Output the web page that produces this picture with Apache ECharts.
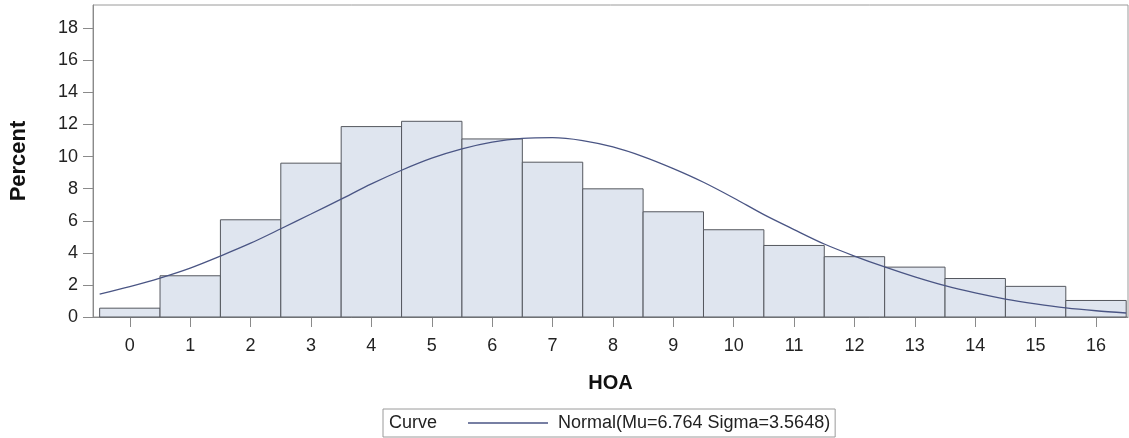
<!DOCTYPE html>
<html>
<head>
<meta charset="utf-8">
<script src="https://cdn.jsdelivr.net/npm/echarts@6/dist/echarts.min.js"></script>
<style>
  html, body { margin: 0; padding: 0; background: #fff; }
  #chart { width: 1129px; height: 438px; }
</style>
</head>
<body>
<div id="chart"></div>
<script>
// histogram bins (HOA value) and percent per bin
const bins = [0, 1, 2, 3, 4, 5, 6, 7, 8, 9, 10, 11, 12, 13, 14, 15, 16];
const percent = [0.55, 2.57, 6.06, 9.59, 11.87, 12.2, 11.1, 9.65, 7.99, 6.56, 5.44, 4.46, 3.76, 3.11, 2.4, 1.91, 1.03];

// normal curve
const curveX = [-0.5, 0, 0.5, 1, 1.5, 2, 2.5, 3, 3.5, 4, 4.5, 5, 5.5, 6, 6.5, 7, 7.5, 8, 8.5, 9, 9.5, 10, 10.5, 11, 11.5, 12, 12.5, 13, 13.5, 14, 14.5, 15, 15.5, 16, 16.5];
const curveY = [1.43, 1.9, 2.43, 3.05, 3.8, 4.6, 5.5, 6.42, 7.35, 8.3, 9.15, 9.9, 10.48, 10.9, 11.13, 11.18, 11.0, 10.6, 10.0, 9.25, 8.4, 7.42, 6.38, 5.45, 4.55, 3.8, 3.12, 2.5, 1.95, 1.5, 1.12, 0.82, 0.57, 0.39, 0.25];

const xTicks = [0, 1, 2, 3, 4, 5, 6, 7, 8, 9, 10, 11, 12, 13, 14, 15, 16];
const yTicks = [0, 2, 4, 6, 8, 10, 12, 14, 16, 18];

const curveName = 'Normal(Mu=6.764 Sigma=3.5648)';
const font = 'Arial, "Liberation Sans", sans-serif';

const chart = echarts.init(document.getElementById('chart'), null, { renderer: 'canvas' });

chart.setOption({
  animation: false,
  textStyle: { fontFamily: font },
  grid: {
    left: 93, right: 1, top: 5, bottom: 121,
    show: true, borderColor: '#9a9a9a', borderWidth: 1
  },
  legend: {
    data: [curveName],
    left: 383, top: 409,
    padding: [5, 5, 5, 85],
    borderColor: '#9a9a9a', borderWidth: 1,
    icon: 'rect',
    itemWidth: 80, itemHeight: 1.3,
    textStyle: { fontSize: 18, color: '#222', fontFamily: font, padding: [0, 0, 0, 5] }
  },
  graphic: [{
    type: 'text', left: 389, top: 414,
    style: { text: 'Curve', fontSize: 18, fill: '#222', fontFamily: font }
  }],
  xAxis: {
    type: 'value', min: -0.61, max: 16.53,
    name: 'HOA', nameLocation: 'middle', nameGap: 56,
    nameTextStyle: { fontSize: 20, fontWeight: 'bold', color: '#111' },
    axisLine: { show: true, onZero: false, lineStyle: { color: '#8a8a8a' } },
    axisTick: { show: true, length: 10, customValues: xTicks, lineStyle: { color: '#8a8a8a' } },
    axisLabel: { customValues: xTicks, margin: 20, fontSize: 18, color: '#222' },
    splitLine: { show: false }
  },
  yAxis: {
    type: 'value', min: 0, max: 19.45,
    name: 'Percent', nameLocation: 'middle', nameGap: 63, nameRotate: 90,
    nameTextStyle: { fontSize: 22, fontWeight: 'bold', color: '#111' },
    axisLine: { show: true, onZero: false, lineStyle: { color: '#8a8a8a' } },
    axisTick: { show: true, length: 10, customValues: yTicks, lineStyle: { color: '#8a8a8a' } },
    axisLabel: { customValues: yTicks, margin: 15, fontSize: 18, color: '#222' },
    splitLine: { show: false }
  },
  series: [
    {
      type: 'custom',
      name: 'hist',
      data: bins.map((b, i) => [b, percent[i]]),
      encode: { x: 0, y: 1 },
      renderItem: function (params, api) {
        const x = api.value(0), y = api.value(1);
        const p0 = api.coord([x - 0.5, y]);
        const p1 = api.coord([x + 0.5, 0]);
        return {
          type: 'rect',
          shape: { x: p0[0], y: p0[1], width: p1[0] - p0[0], height: p1[1] - p0[1] },
          style: { fill: '#dfe5ef', stroke: '#55585f', lineWidth: 1 }
        };
      },
      z: 1
    },
    {
      type: 'line',
      name: curveName,
      data: curveX.map((x, i) => [x, curveY[i]]),
      smooth: 0.3,
      symbol: 'none',
      lineStyle: { color: '#4a5584', width: 1.3 },
      itemStyle: { color: '#4a5584' },
      z: 3
    }
  ]
});

window.addEventListener('resize', () => chart.resize());
</script>
</body>
</html>
